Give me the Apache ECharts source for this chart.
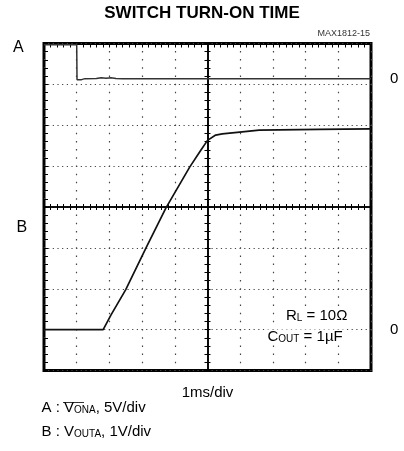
<!DOCTYPE html>
<html><head><meta charset="utf-8">
<script src="https://cdn.jsdelivr.net/npm/echarts@6/dist/echarts.min.js"></script>
<style>html,body{margin:0;padding:0;background:#fff}#c{width:404px;height:451px}</style>
</head><body><div id="c"></div>
<script>
// ---- chart data ----
const titleText = 'SWITCH TURN-ON TIME';
const figureId = 'MAX1812-15';
const timeAxisName = '1ms/div';
// trace A : V(ONA), volts (5V/div)
const aTime = [0, 1.0, 1.01, 1.15, 1.25, 1.6, 1.75, 1.9, 2.05, 2.2, 2.4, 10];
const aVolt = [4.2, 4.2, -0.09, -0.08, 0.04, 0.05, 0.15, 0.08, 0.16, 0.06, 0.04, 0.04];
// trace B : V(OUTA), volts (1V/div)
const bTime = [0, 1.81, 2.05, 2.5, 3.12, 3.73, 4.45, 4.78, 5.0, 5.25, 5.45, 6.06, 6.58, 8.41, 10];
const bVolt = [0, 0, 0.36, 0.98, 2.0, 2.98, 3.97, 4.37, 4.63, 4.76, 4.79, 4.84, 4.88, 4.90, 4.91];
const zeroTicks = [0];
const noteLines = [['R', 'L', ' = 10Ω'], ['C', 'OUT', ' = 1µF']];
const legendLines = [['A : V', 'ONA', ', 5V/div'], ['B : V', 'OUTA', ', 1V/div']];

const FF = 'Liberation Sans, Arial, sans-serif';
const chart = echarts.init(document.getElementById('c'), null, {renderer: 'canvas'});
const pairs = (xs, ys) => xs.map((x, i) => [x, ys[i]]);
const rich = {
  m: {fontSize: 15, fontFamily: FF, color: '#000'},
  s: {fontSize: 10, fontFamily: FF, color: '#000', padding: [5, 0, 0, 0]}
};
const richText = l => '{m|' + l[0] + '}{s|' + l[1] + '}{m|' + l[2] + '}';

const hiddenBase = {
  type: 'value', axisLabel: {show: false}, splitLine: {show: false}
};
const tickStyle = {color: '#000', width: 1};

const option = {
  animation: false,
  backgroundColor: '#fff',
  title: {
    text: titleText, left: 'center', top: 5, padding: 0,
    textStyle: {fontSize: 17, fontWeight: 'bold', fontFamily: FF, color: '#000'}
  },
  grid: {
    left: 44, top: 43.5, width: 327, height: 327,
    show: true, borderColor: '#000', borderWidth: 3, backgroundColor: 'transparent',
    outerBoundsMode: 'none'
  },
  xAxis: [
    { // time
      type: 'value', min: 0, max: 10, interval: 1, position: 'bottom',
      name: timeAxisName, nameLocation: 'middle', nameGap: 15,
      nameTextStyle: {fontSize: 15, fontFamily: FF, color: '#000'},
      axisLine: {show: false, onZero: false}, axisTick: {show: false}, axisLabel: {show: false},
      splitLine: {show: true, lineStyle: {type: [1.5, 6.68], dashOffset: 0.75, color: '#444', width: 1.2}}
    },
    Object.assign({}, hiddenBase, { // top border ticks
      min: 0, max: 10, interval: 1, position: 'top',
      axisLine: {show: false, onZero: false},
      axisTick: {show: true, inside: true, length: 4, lineStyle: tickStyle},
      minorTick: {show: true, splitNumber: 5, length: 4, lineStyle: tickStyle}
    }),
    Object.assign({}, hiddenBase, { // center horizontal axis, ticks down
      min: -5, max: 5, interval: 1, position: 'bottom',
      axisLine: {show: true, onZero: true, onZeroAxisIndex: 2, lineStyle: {color: '#000', width: 1.6}},
      axisTick: {show: true, length: 3, lineStyle: tickStyle},
      minorTick: {show: true, splitNumber: 5, length: 3, lineStyle: tickStyle}
    }),
    Object.assign({}, hiddenBase, { // center horizontal axis, ticks up
      min: -5, max: 5, interval: 1, position: 'top',
      axisLine: {show: true, onZero: true, onZeroAxisIndex: 2, lineStyle: {color: '#000', width: 1.6}},
      axisTick: {show: true, length: 3, lineStyle: tickStyle},
      minorTick: {show: true, splitNumber: 5, length: 3, lineStyle: tickStyle}
    })
  ],
  yAxis: [
    { // B volts
      type: 'value', min: -1, max: 7, interval: 1, position: 'right',
      axisLine: {show: false, onZero: false}, axisTick: {show: false},
      axisLabel: {show: true, customValues: zeroTicks, formatter: v => String(v), margin: 19,
        fontSize: 15, fontFamily: FF, color: '#000'},
      splitLine: {show: true, lineStyle: {type: [1.2, 3.47], dashOffset: 0.6, color: '#444', width: 1.2}}
    },
    { // A volts
      type: 'value', min: -35.66, max: 4.34, position: 'right',
      axisLine: {show: false, onZero: false}, axisTick: {show: false},
      axisLabel: {show: true, customValues: zeroTicks, formatter: v => String(v), margin: 19,
        fontSize: 15, fontFamily: FF, color: '#000'},
      splitLine: {show: false}
    },
    Object.assign({}, hiddenBase, { // center vertical axis, ticks left
      min: -4, max: 4, interval: 1, position: 'left',
      axisLine: {show: true, onZero: true, onZeroAxisIndex: 2, lineStyle: {color: '#000', width: 1.6}},
      axisTick: {show: true, length: 3, lineStyle: tickStyle},
      minorTick: {show: true, splitNumber: 5, length: 3, lineStyle: tickStyle}
    }),
    Object.assign({}, hiddenBase, { // center vertical axis, ticks right
      min: -4, max: 4, interval: 1, position: 'right',
      axisLine: {show: true, onZero: true, onZeroAxisIndex: 2, lineStyle: {color: '#000', width: 1.6}},
      axisTick: {show: true, length: 3, lineStyle: tickStyle},
      minorTick: {show: true, splitNumber: 5, length: 3, lineStyle: tickStyle}
    }),
    Object.assign({}, hiddenBase, { // left border ticks
      min: -4, max: 4, interval: 1, position: 'left',
      axisLine: {show: false, onZero: false},
      axisTick: {show: true, inside: true, length: 4, lineStyle: tickStyle},
      minorTick: {show: true, splitNumber: 5, length: 4, lineStyle: tickStyle}
    })
  ],
  series: [
    {
      name: 'A', type: 'line', xAxisIndex: 0, yAxisIndex: 1, data: pairs(aTime, aVolt),
      showSymbol: false, smooth: false, z: 5,
      lineStyle: {color: '#333', width: 1.5}
    },
    {
      name: 'B', type: 'line', xAxisIndex: 0, yAxisIndex: 0, data: pairs(bTime, bVolt),
      showSymbol: false, smooth: false, z: 5,
      lineStyle: {color: '#111', width: 1.7}
    }
  ],
  graphic: [
    {type: 'text', z: 100, style: {text: figureId, x: 370, y: 34, align: 'right', verticalAlign: 'middle',
      fontSize: 9, fontFamily: FF, fill: '#333'}},
    {type: 'text', z: 100, style: {text: 'A', x: 13, y: 47.5, verticalAlign: 'middle',
      fontSize: 16, fontFamily: FF, fill: '#000'}},
    {type: 'text', z: 100, style: {text: 'B', x: 16.5, y: 227.5, verticalAlign: 'middle',
      fontSize: 16, fontFamily: FF, fill: '#000'}},
    {type: 'text', z: 100, style: {text: richText(noteLines[0]), rich: rich, x: 284, y: 316,
      verticalAlign: 'middle', backgroundColor: '#fff', padding: [0, 2]}},
    {type: 'text', z: 100, style: {text: richText(noteLines[1]), rich: rich, x: 265.5, y: 337,
      verticalAlign: 'middle', backgroundColor: '#fff', padding: [0, 2]}},
    {type: 'text', z: 100, style: {text: richText(legendLines[0]), rich: rich, x: 41.5, y: 408,
      verticalAlign: 'middle'}},
    {type: 'text', z: 100, style: {text: richText(legendLines[1]), rich: rich, x: 41.5, y: 432,
      verticalAlign: 'middle'}},
    {type: 'line', z: 100, shape: {x1: 63, y1: 402.5, x2: 84, y2: 402.5}, style: {stroke: '#000', lineWidth: 0.8}}
  ]
};
chart.setOption(option);
</script>
</body></html>
